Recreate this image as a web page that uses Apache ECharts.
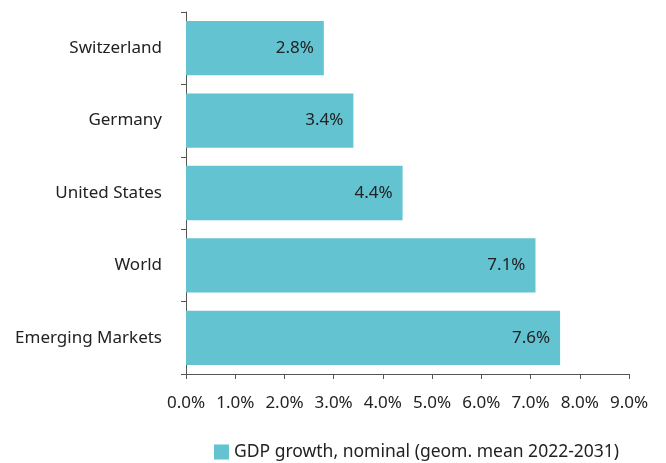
<!DOCTYPE html>
<html>
<head>
<meta charset="utf-8">
<script src="https://cdn.jsdelivr.net/npm/echarts@6/dist/echarts.min.js"></script>
<style>
  html, body { margin: 0; padding: 0; background: #fff; }
  #chart { width: 666px; height: 463px; }
</style>
</head>
<body>
<div id="chart"></div>
<script>
const categories = ['Switzerland', 'Germany', 'United States', 'World', 'Emerging Markets'];
const growthValues = [2.8, 3.4, 4.4, 7.1, 7.6];
const seriesName = 'GDP growth, nominal (geom. mean 2022-2031)';

const chart = echarts.init(document.getElementById('chart'));
const font = 'Noto Sans';
chart.setOption({
  animation: false,
  legend: {
    top: 438,
    left: 209,
    itemWidth: 15,
    itemHeight: 15,
    itemGap: 11,
    icon: 'rect',
    textStyle: { color: '#222', fontSize: 17.5, fontFamily: font },
    data: [seriesName]
  },
  grid: { left: 186, right: 37, top: 12, bottom: 89 },
  xAxis: {
    type: 'value',
    min: 0,
    max: 9,
    interval: 1,
    axisLine: { show: true, lineStyle: { color: '#555' } },
    axisTick: { show: true, length: 5, lineStyle: { color: '#555' } },
    splitLine: { show: false },
    axisLabel: {
      color: '#222', fontSize: 17, fontFamily: font, margin: 21,
      formatter: v => v.toFixed(1) + '%'
    }
  },
  yAxis: {
    type: 'category',
    inverse: true,
    data: categories,
    axisLine: { show: true, lineStyle: { color: '#555' } },
    axisTick: { show: true, length: 5, lineStyle: { color: '#555' } },
    axisLabel: { color: '#222', fontSize: 17, fontFamily: font, margin: 24 }
  },
  series: [{
    name: seriesName,
    type: 'bar',
    data: growthValues,
    barWidth: '75%',
    itemStyle: { color: '#63c3d1' },
    label: {
      show: true,
      position: 'insideRight',
      distance: 10,
      color: '#222',
      fontSize: 17,
      fontFamily: font,
      formatter: p => p.value.toFixed(1) + '%'
    }
  }]
});
</script>
</body>
</html>
